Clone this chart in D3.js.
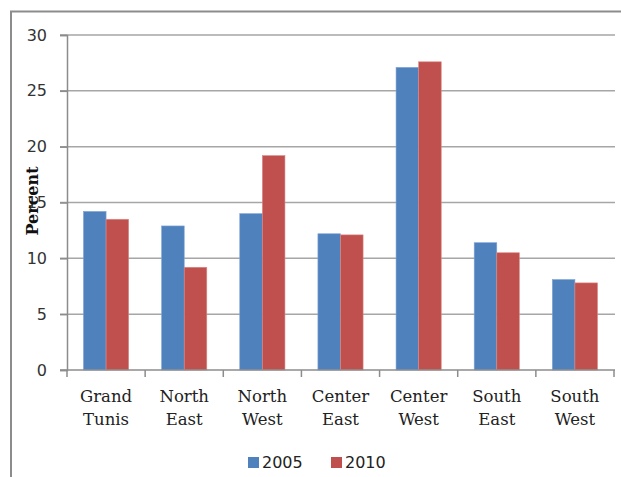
<!DOCTYPE html>
<meta charset="utf-8">
<head>
<title>Percent by region</title>
</head>
<style>
body { margin: 0; background: #fff; }
svg { display: block; }
</style>
<body>
<svg width="621" height="477"></svg>
<script src="https://d3js.org/d3.v7.min.js"></script>
<script>
// data
var regions = [['Grand', 'Tunis'], ['North', 'East'], ['North', 'West'], ['Center', 'East'],
               ['Center', 'West'], ['South', 'East'], ['South', 'West']];
var years = ['2005', '2010'];
var v2005 = [14.2, 12.9, 14.0, 12.2, 27.1, 11.4, 8.1];
var v2010 = [13.5, 9.2, 19.2, 12.1, 27.6, 10.5, 7.8];
var yTicks = [0, 5, 10, 15, 20, 25, 30];
var colors = ['#4F81BD', '#C0504D'];

var svg = d3.select('svg');
// note: "top" is taken by window.top, so plot edges get their own names
var plotL = 67, plotR = 614, plotT = 35, plotB = 370;

// frame (only top and left show in the picture)
svg.append('path')
  .attr('d', 'M11,477 V11.5 H621')
  .attr('fill', 'none')
  .attr('stroke', '#8c8c8c')
  .attr('stroke-width', 2);

var x = d3.scaleBand()
  .domain(d3.range(regions.length))
  .range([plotL, plotR]);

var xs = d3.scaleBand()
  .domain(years)
  .range([0, x.bandwidth()])
  .paddingOuter(0.73);

var y = d3.scaleLinear().domain([0, 30]).range([plotB, plotT]);

// gridlines
svg.append('g')
  .selectAll('line')
  .data(yTicks.filter(function(d) { return d > 0; }))
  .enter().append('line')
  .attr('x1', plotL - 7).attr('x2', plotR + 1)
  .attr('y1', function(d) { return y(d); })
  .attr('y2', function(d) { return y(d); })
  .attr('stroke', '#a6a6a6')
  .attr('stroke-width', 1.5);

// bars
var series = [v2005, v2010];
series.forEach(function(vals, si) {
  svg.append('g')
    .selectAll('rect')
    .data(vals)
    .enter().append('rect')
    .attr('x', function(d, i) { return x(i) + xs(years[si]); })
    .attr('width', xs.bandwidth())
    .attr('y', function(d) { return y(d); })
    .attr('height', function(d) { return y(0) - y(d); })
    .attr('fill', colors[si])
    .attr('stroke', si == 0 ? '#7ea3d6' : '#d98a88')
    .attr('stroke-width', 0.6);
});

// y axis
var yAxis = svg.append('g')
  .attr('transform', 'translate(' + plotL + ',0)')
  .call(d3.axisLeft(y).tickValues(yTicks).tickSize(7).tickPadding(13));
yAxis.select('.domain').attr('stroke', '#8c8c8c').attr('stroke-width', 1.5);
yAxis.selectAll('.tick line').attr('stroke', '#8c8c8c').attr('stroke-width', 1.5);
yAxis.selectAll('.tick text')
  .attr('font-family', 'DejaVu Sans, sans-serif')
  .attr('font-size', 16)
  .attr('fill', '#333');

// x axis line + ticks between categories
svg.append('line')
  .attr('x1', plotL - 7).attr('x2', plotR + 1)
  .attr('y1', plotB).attr('y2', plotB)
  .attr('stroke', '#8c8c8c').attr('stroke-width', 1.5);
svg.append('g')
  .selectAll('line')
  .data(d3.range(regions.length + 1))
  .enter().append('line')
  .attr('x1', function(i) { return i < regions.length ? x(i) : plotR; })
  .attr('x2', function(i) { return i < regions.length ? x(i) : plotR; })
  .attr('y1', plotB).attr('y2', plotB + 7)
  .attr('stroke', '#8c8c8c').attr('stroke-width', 1.5);

// category labels, two lines each
var lab = svg.append('g')
  .selectAll('text')
  .data(regions)
  .enter().append('text')
  .attr('text-anchor', 'middle')
  .attr('font-family', 'DejaVu Serif, serif')
  .attr('font-size', 16.5)
  .attr('fill', '#222');
lab.append('tspan')
  .attr('x', function(d, i) { return x(i) + x.bandwidth() / 2; })
  .attr('y', 402)
  .text(function(d) { return d[0]; });
lab.append('tspan')
  .attr('x', function(d, i) { return x(i) + x.bandwidth() / 2; })
  .attr('y', 425)
  .text(function(d) { return d[1]; });

// y title
svg.append('text')
  .attr('transform', 'translate(38,201) rotate(-90)')
  .attr('text-anchor', 'middle')
  .attr('font-family', 'DejaVu Serif, serif')
  .attr('font-weight', 'bold')
  .attr('font-size', 16)
  .attr('fill', '#111')
  .text('Percent');

// legend
var legX = [248, 331];
var leg = svg.append('g')
  .selectAll('g')
  .data(years)
  .enter().append('g')
  .attr('transform', function(d, i) { return 'translate(' + legX[i] + ',457)'; });
leg.append('rect')
  .attr('width', 11).attr('height', 11)
  .attr('fill', function(d, i) { return colors[i]; });
leg.append('text')
  .attr('x', 14).attr('y', 11)
  .attr('font-family', 'DejaVu Sans, sans-serif')
  .attr('font-size', 16)
  .attr('fill', '#222')
  .text(function(d) { return d; });
</script>
</body>
</html>
